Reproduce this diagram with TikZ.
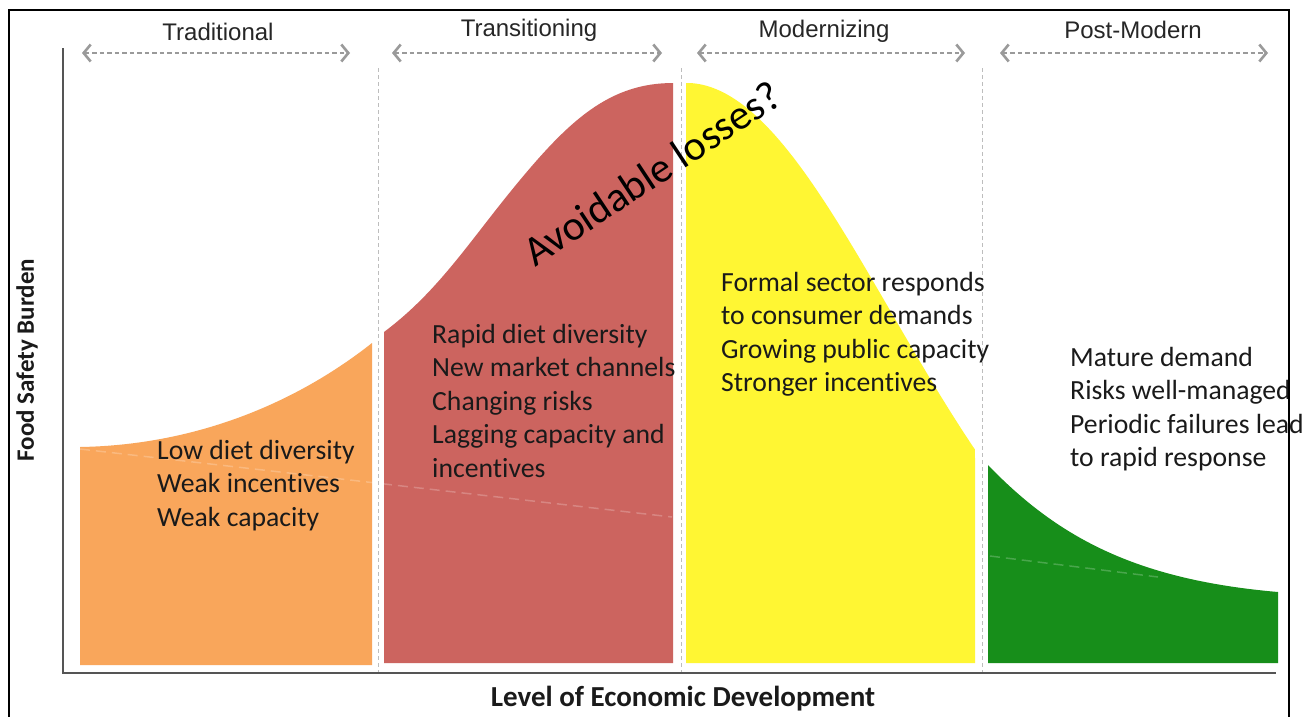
\documentclass[tikz,border=0pt]{standalone}
\usepackage{fontspec}
\setmainfont{Carlito}[Ligatures={NoCommon,NoContextual}]
\newfontfamily\hdrfont{Liberation Sans}
\usetikzlibrary{arrows.meta}
\definecolor{orangef}{HTML}{F9A65B}
\definecolor{redf}{HTML}{CC645F}
\definecolor{yellowf}{HTML}{FFF633}
\definecolor{greenf}{HTML}{178E1A}
\definecolor{arrowgray}{HTML}{9A9A9A}
\definecolor{axisgray}{HTML}{555555}
\definecolor{divgray}{HTML}{BDBDBD}
\definecolor{txt}{HTML}{1A1A1A}
\begin{document}
\begin{tikzpicture}[x=1pt,y=-1pt,
  phase/.style={font=\hdrfont\fontsize{24}{27}\selectfont, text=black!85, inner sep=0pt},
  span/.style={draw=arrowgray, line width=2.2pt, dash pattern=on 4.5pt off 3pt,
    {Straight Barb[length=7pt,width=17pt,line width=2.6pt]}-{Straight Barb[length=7pt,width=17pt,line width=2.6pt]}},
  divider/.style={draw=divgray, line width=1pt, dash pattern=on 4pt off 3pt},
  body/.style={font=\fontsize{27.7}{33.5}\selectfont, align=left, anchor=north west, inner sep=0pt, text=txt},
  axislabel/.style={font=\bfseries\fontsize{25}{28}\selectfont, text=txt, inner sep=0pt},
  faint/.style={draw=white, opacity=.22, line width=1.5pt, dash pattern=on 10pt off 6pt}]
\useasboundingbox (0,0) rectangle (1314,716);
\fill[white] (0,0) rectangle (1314,716);
% curves
\fill[orangef] (80,665) -- (80,447) .. controls (200,445) and (300,400) .. (372,343) -- (372,665) -- cycle;
\fill[redf] (384,663) -- (384,332) .. controls (440,290) and (470,240) .. (520,180) .. controls (570,120) and (610,83) .. (673,83) -- (673,663) -- cycle;
\fill[yellowf] (686,663) -- plot[domain=0:2.89, samples=60, variable=\t] ({686+100*\t},{665-582*exp(-\t*\t/8.4)}) -- (975,663) -- cycle;
\fill[greenf] (988,663) -- (988,465) .. controls (1060,540) and (1140,580) .. (1278,592) -- (1278,663) -- cycle;
\draw[faint] (80,449) -- (672,517);
\draw[faint] (990,556) -- (1158,577);
% dividers
\coordinate (d1t) at (378,68); \coordinate (d1b) at (378,676);
\coordinate (d2t) at (681,68); \coordinate (d2b) at (681,676);
\coordinate (d3t) at (982,68); \coordinate (d3b) at (982,676);
\draw[divider] (d1t) -- (d1b);
\draw[divider] (d2t) -- (d2b);
\draw[divider] (d3t) -- (d3b);
% axes
\coordinate (ytop) at (63,48); \coordinate (orig) at (63,673); \coordinate (xend) at (1276,673);
\draw[axisgray, line width=2.2pt] (ytop) -- (orig) -- (xend);
% phase headers
\node[phase] (trad) at (218,32) {Traditional};
\node[phase] (trans) at (529,30) {Transitioning};
\node[phase] (mod) at (824,31) {Modernizing};
\node[phase] (post) at (1133,30) {Post-Modern};
\coordinate (a1l) at (82,53); \coordinate (a1r) at (350,53);
\coordinate (a2l) at (392,53); \coordinate (a2r) at (662,53);
\coordinate (a3l) at (697,53); \coordinate (a3r) at (965,53);
\coordinate (a4l) at (1000,53); \coordinate (a4r) at (1268,53);
\draw[span] (a1l) -- (a1r);
\draw[span] (a2l) -- (a2r);
\draw[span] (a3l) -- (a3r);
\draw[span] (a4l) -- (a4r);
% texts
\node[body] (tradtxt) at (157,435.5) {\strut Low diet diversity\\Weak incentives\\Weak capacity};
\node[body] (transtxt) at (432,319.5) {\strut Rapid diet diversity\\New market channels\\Changing risks\\Lagging capacity and\\incentives};
\node[body] (modtxt) at (721,267.5) {\strut Formal sector responds\\to consumer demands\\Growing public capacity\\Stronger incentives};
\node[body] (posttxt) at (1070,342.5) {\strut Mature demand\\Risks well-managed\\Periodic failures lead\\to rapid response};
\node[font=\fontsize{42}{46}\selectfont, text=black, rotate=33.5, inner sep=0pt] (avoid) at (652,173) {Avoidable losses?};
\node[axislabel, rotate=90] (ylab) at (27,360) {Food Safety Burden};
\node[axislabel, font=\bfseries\fontsize{29}{32}\selectfont] (xlab) at (683,699) {Level of Economic Development};
% outer frame
\draw[black, line width=2pt] (9,720) -- (9,10) -- (1289,10) -- (1289,720);
\end{tikzpicture}
\end{document}
